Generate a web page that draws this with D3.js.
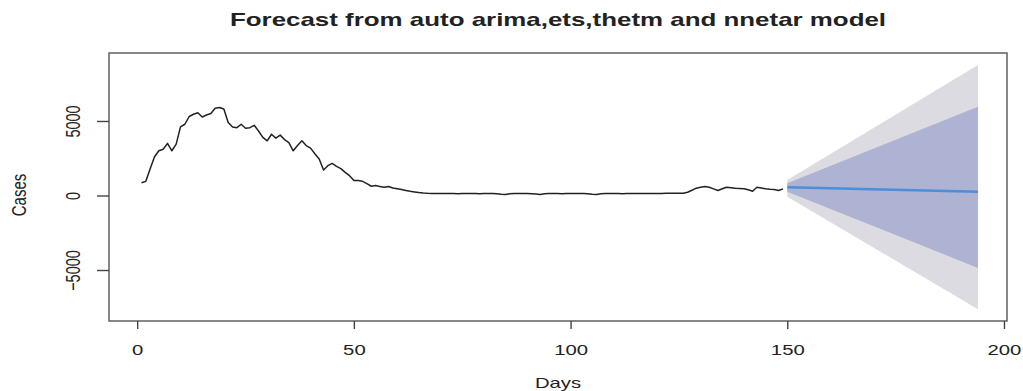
<!DOCTYPE html>
<html>
<head>
<meta charset="utf-8">
<script src="https://cdn.jsdelivr.net/npm/d3@7"></script>
<style>
  body { margin: 0; background: #fff; }
  text { font-family: "Liberation Sans", Arial, sans-serif; fill: #222; }
</style>
</head>
<body>
<div class="canvas"></div>
<script>
/////////////////////////////////
//** DATA **//

// observed daily cases, days 1..149
const cases = [
  850, 950, 1800, 2600, 3000, 3100, 3500, 3000, 3450, 4600,
  4780, 5300, 5450, 5550, 5270, 5400, 5500, 5850, 5900, 5800,
  4900, 4600, 4550, 4780, 4510, 4550, 4710, 4330, 3900, 3670,
  4110, 3850, 4050, 3750, 3550, 3000, 3350, 3670, 3350, 3180,
  2800, 2450, 1710, 2000, 2150, 1950, 1800, 1550, 1330, 1000,
  1000, 950, 800, 620, 667, 600, 553, 600, 500, 447,
  400, 330, 280, 240, 200, 170, 150, 140, 130, 130,
  130, 130, 130, 125, 130, 130, 130, 130, 125, 130,
  130, 130, 120, 90, 70, 110, 130, 130, 130, 130,
  125, 100, 70, 110, 130, 130, 130, 125, 130, 130,
  130, 130, 130, 120, 90, 70, 110, 130, 130, 130,
  130, 125, 130, 130, 130, 130, 130, 130, 135, 140,
  140, 145, 150, 150, 150, 150, 220, 350, 490, 560,
  600, 550, 447, 333, 450, 553, 520, 490, 470, 447,
  380, 287, 553, 500, 447, 420, 400, 333, 447
];

// forecast horizon points
const fcDays = [150, 172, 194];
const fcMean = [550, 400, 255];
const lo80 = [255, -2300, -4860];
const hi80 = [815, 3390, 5960];
const lo95 = [-80, -3850, -7630];
const hi95 = [1040, 4900, 8757];

const xTicks = [0, 50, 100, 150, 200];
const yTicks = [-5000, 0, 5000];

/////////////////////////////////
//** DIMENSIONS **//

const W = 1023, H = 391;
const box = { left: 109, right: 1007, top: 53, bottom: 321 };
const sx = 1.4; // the picture is stretched sideways, so is its text

const svg = d3.select('.canvas')
  .append('svg')
  .attr('width', W)
  .attr('height', H);

const x = d3.scaleLinear().domain([-6.5, 200.7]).range([box.left, box.right]);
const y = d3.scaleLinear().domain([-8420, 9560]).range([box.bottom, box.top]);

svg.append('clipPath').attr('id', 'clip')
  .append('rect')
  .attr('x', box.left).attr('y', box.top)
  .attr('width', box.right - box.left).attr('height', box.bottom - box.top);

const plot = svg.append('g').attr('clip-path', 'url(#clip)');

// prediction bands
const band = (lo, hi) => d3.area()
  .x((d, i) => x(fcDays[i]))
  .y0((d, i) => y(lo[i]))
  .y1((d, i) => y(hi[i]));

plot.append('path')
  .attr('d', band(lo95, hi95)(fcDays))
  .attr('fill', '#dcdbe2');

plot.append('path')
  .attr('d', band(lo80, hi80)(fcDays))
  .attr('fill', '#aeb2d3');

// observed series
const line = d3.line()
  .x((d, i) => x(i + 1))
  .y(d => y(d));

plot.append('path')
  .attr('d', line(cases))
  .attr('fill', 'none')
  .attr('stroke', '#222')
  .attr('stroke-width', 1.5)
  .attr('stroke-linejoin', 'round');

// forecast mean
plot.append('path')
  .attr('d', d3.line().x((d, i) => x(fcDays[i])).y(d => y(d))(fcMean))
  .attr('fill', 'none')
  .attr('stroke', '#4a8fdc')
  .attr('stroke-width', 2.5);

/////////////////////////////////
//** AXES **//

svg.append('rect')
  .attr('x', box.left).attr('y', box.top)
  .attr('width', box.right - box.left).attr('height', box.bottom - box.top)
  .attr('fill', 'none')
  .attr('stroke', '#555')
  .attr('stroke-width', 1.4);

const xAxis = svg.append('g')
  .attr('transform', `translate(0, ${box.bottom})`)
  .call(d3.axisBottom(x).tickValues(xTicks).tickSize(8).tickPadding(0));
xAxis.select('.domain').remove();
xAxis.selectAll('line').attr('stroke', '#444').attr('stroke-width', 1.4);
xAxis.selectAll('text')
  .attr('y', 0).attr('dy', null)
  .attr('font-size', 14.5)
  .attr('transform', d => `translate(${x(d) * (1 - sx)}, 34) scale(${sx}, 1)`)
  .attr('x', 0);
xAxis.selectAll('.tick text')
  .attr('transform', d => `translate(0, 34) scale(${sx}, 1)`);

const yAxis = svg.append('g')
  .attr('transform', `translate(${box.left}, 0)`)
  .call(d3.axisLeft(y).tickValues(yTicks).tickSize(12).tickFormat(d3.format('d')));
yAxis.select('.domain').remove();
yAxis.selectAll('line').attr('stroke', '#444').attr('stroke-width', 1.4);
yAxis.selectAll('text')
  .attr('x', null).attr('dy', null)
  .attr('text-anchor', 'middle')
  .attr('font-size', 14.5)
  .attr('transform', `translate(${80 - box.left}, 0) scale(${sx}, 1) rotate(-90)`);

/////////////////////////////////
//** TITLES **//

svg.append('text')
  .attr('transform', `translate(558, 26) scale(${sx}, 1)`)
  .attr('text-anchor', 'middle')
  .attr('font-size', 18.5)
  .attr('font-weight', 'bold')
  .attr('fill', '#111')
  .text('Forecast from auto arima,ets,thetm and nnetar model');

svg.append('text')
  .attr('transform', `translate(558, 388) scale(${sx}, 1)`)
  .attr('text-anchor', 'middle')
  .attr('font-size', 14.5)
  .text('Days');

svg.append('text')
  .attr('transform', `translate(26, 195) scale(${sx}, 1) rotate(-90)`)
  .attr('text-anchor', 'middle')
  .attr('font-size', 15)
  .text('Cases');
</script>
</body>
</html>
